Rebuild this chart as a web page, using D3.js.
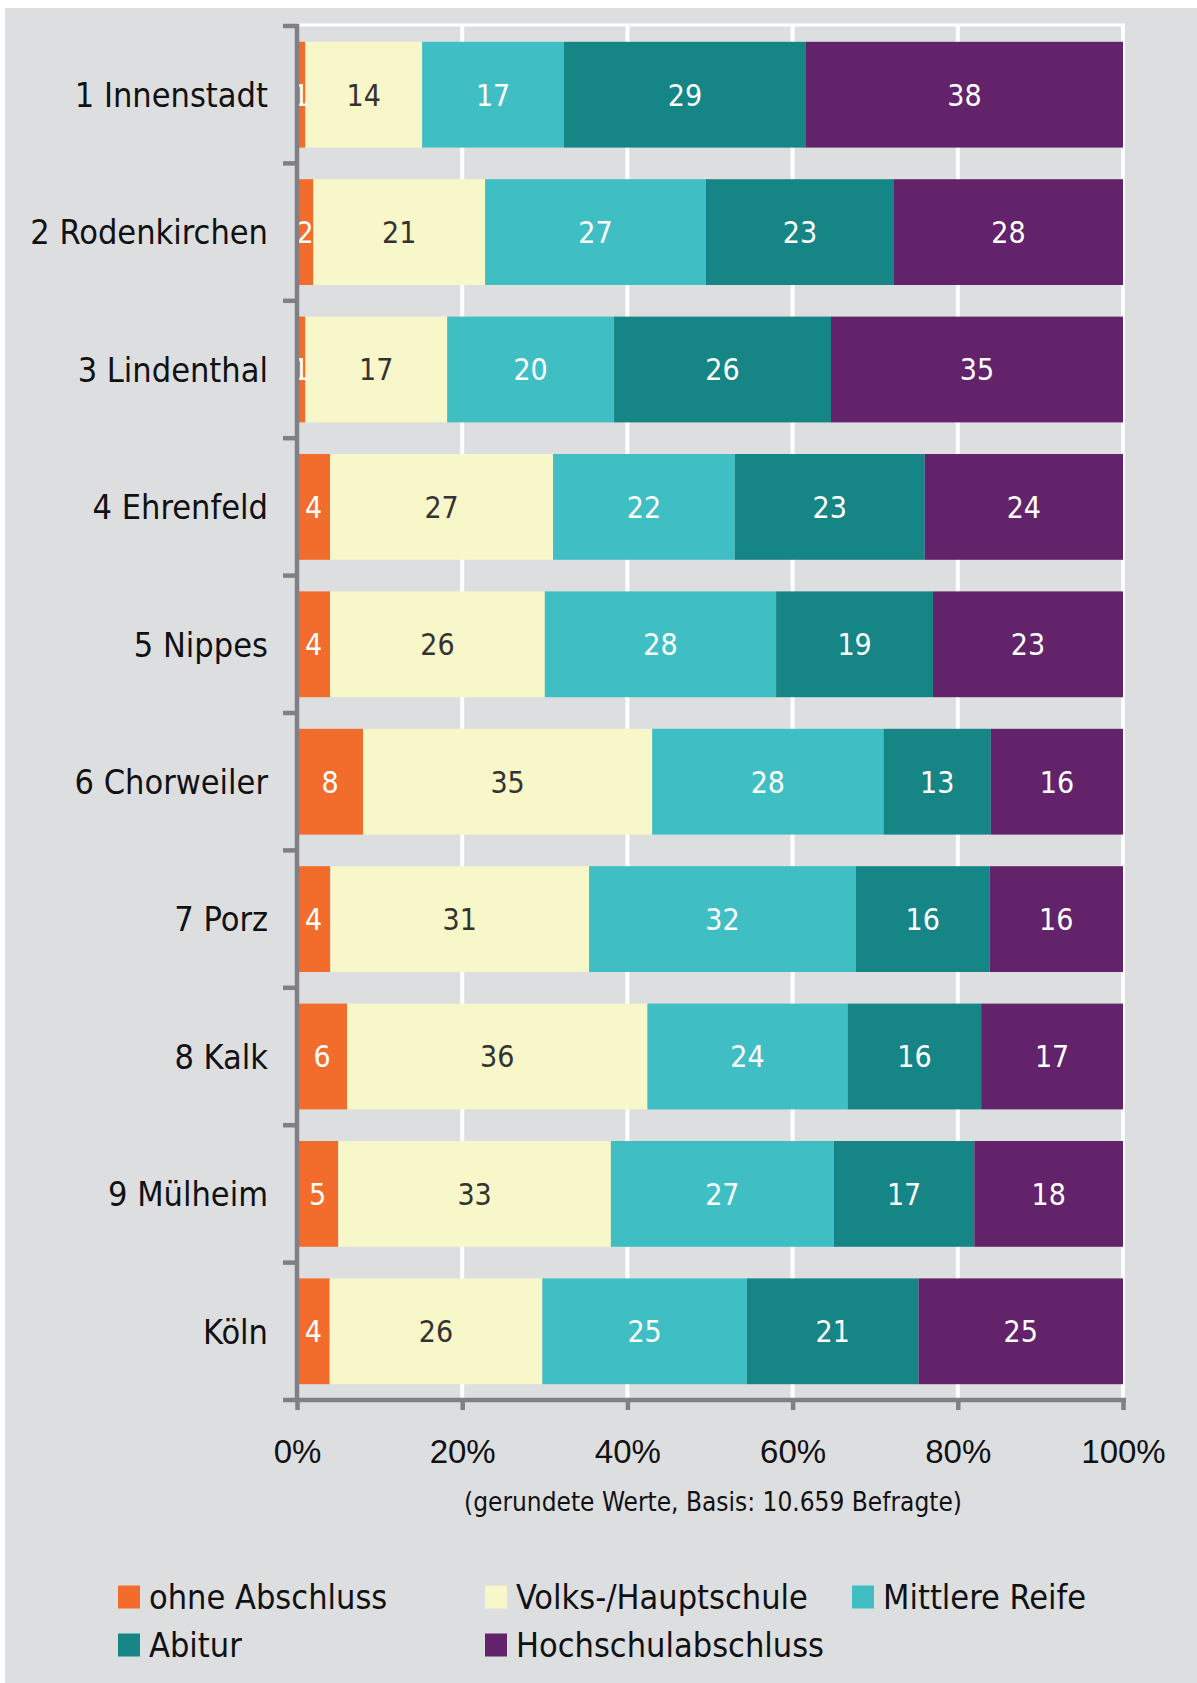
<!DOCTYPE html>
<html lang="de">
<head>
<meta charset="utf-8">
<title>Schulabschluss nach Stadtbezirk</title>
<script src="https://cdn.jsdelivr.net/npm/d3@7"></script>
<style>
  body { margin: 0; background: #fff; }
  svg { display: block; font-family: "Liberation Sans Narrow", "DejaVu Sans Condensed", "Open Sans", sans-serif; }
</style>
</head>
<body>
<script>
var width = 1197;
var height = 1683;

// categories (top to bottom)
var districts = ["1 Innenstadt", "2 Rodenkirchen", "3 Lindenthal", "4 Ehrenfeld", "5 Nippes",
                 "6 Chorweiler", "7 Porz", "8 Kalk", "9 Mülheim", "Köln"];
var series = ["ohne Abschluss", "Volks-/Hauptschule", "Mittlere Reife", "Abitur", "Hochschulabschluss"];
var colors = ["#f26d2b", "#f8f7c9", "#3fbfc4", "#158585", "#63236a"];

// rounded percentages as printed in the bars
var ohne      = [1, 2, 1, 4, 4, 8, 4, 6, 5, 4];
var volks     = [14, 21, 17, 27, 26, 35, 31, 36, 33, 26];
var mittlere  = [17, 27, 20, 22, 28, 28, 32, 24, 27, 25];
var abitur    = [29, 23, 26, 23, 19, 13, 16, 16, 17, 21];
var hochschul = [38, 28, 35, 24, 23, 16, 16, 17, 18, 25];
var xTicks = [0, 0.2, 0.4, 0.6, 0.8, 1];

var data = districts.map(function(d, i) {
  return {
    name: d,
    "ohne Abschluss": ohne[i],
    "Volks-/Hauptschule": volks[i],
    "Mittlere Reife": mittlere[i],
    "Abitur": abitur[i],
    "Hochschulabschluss": hochschul[i]
  };
});

var stack = d3.stack().keys(series).offset(d3.stackOffsetExpand);
var layers = stack(data);

var svg = d3.select("body").append("svg")
  .attr("width", width)
  .attr("height", height);

svg.append("rect")
  .attr("x", 5).attr("y", 8)
  .attr("width", width - 5).attr("height", height - 8)
  .attr("fill", "#dddee0");

var xScale = d3.scaleLinear().domain([0, 1]).range([297, 1123]);
var yScale = d3.scaleBand().domain(districts).range([26, 1400])
  .paddingInner(0.23).paddingOuter(0.115);

var axisColor = "#7f7f85";

// white grid
svg.append("line")
  .attr("x1", xScale(0)).attr("x2", xScale(1) + 2)
  .attr("y1", 25).attr("y2", 25)
  .attr("stroke", "#fff").attr("stroke-width", 3);
svg.selectAll(".grid")
  .data(xTicks.slice(1))
  .enter().append("line")
  .attr("class", "grid")
  .attr("x1", function(d) { return xScale(d); })
  .attr("x2", function(d) { return xScale(d); })
  .attr("y1", 24).attr("y2", 1400)
  .attr("stroke", "#fff").attr("stroke-width", 4);

// bars
var groups = svg.selectAll(".layer")
  .data(layers)
  .enter().append("g")
  .attr("class", "layer")
  .attr("fill", function(d, i) { return colors[i]; });

groups.selectAll("rect")
  .data(function(d) { return d; })
  .enter().append("rect")
  .attr("x", function(d) { return xScale(d[0]); })
  .attr("y", function(d) { return yScale(d.data.name); })
  .attr("width", function(d) { return xScale(d[1]) - xScale(d[0]); })
  .attr("height", yScale.bandwidth());

// value labels
layers.forEach(function(layer, i) {
  svg.append("g").selectAll("text")
    .data(layer)
    .enter().append("text")
    .attr("x", function(d) { return (xScale(d[0]) + xScale(d[1])) / 2; })
    .attr("y", function(d) { return yScale(d.data.name) + yScale.bandwidth() / 2; })
    .attr("dy", "0.36em")
    .attr("text-anchor", "middle")
    .attr("font-size", 30)
    .attr("fill", i === 1 ? "#333333" : "#ffffff")
    .text(function(d) { return d.data[layer.key]; });
});

// y axis with caps at band boundaries
var step = yScale.step();
var y0 = yScale.range()[0];
svg.append("line")
  .attr("x1", 297).attr("x2", 297)
  .attr("y1", y0 - 2).attr("y2", 1402)
  .attr("stroke", axisColor).attr("stroke-width", 4.5);
svg.selectAll(".ycap")
  .data(d3.range(districts.length))
  .enter().append("line")
  .attr("x1", 283).attr("x2", 299)
  .attr("y1", function(d) { return y0 + d * step; })
  .attr("y2", function(d) { return y0 + d * step; })
  .attr("stroke", axisColor).attr("stroke-width", 4.5);

svg.append("g").selectAll("text")
  .data(districts)
  .enter().append("text")
  .attr("x", 268)
  .attr("y", function(d) { return yScale(d) + yScale.bandwidth() / 2; })
  .attr("dy", "0.36em")
  .attr("text-anchor", "end")
  .attr("font-size", 34)
  .attr("fill", "#111")
  .text(function(d) { return d; });

// x axis
svg.append("line")
  .attr("x1", 283).attr("x2", 1126)
  .attr("y1", 1400).attr("y2", 1400)
  .attr("stroke", axisColor).attr("stroke-width", 4.5);

var xAxis = d3.axisBottom(xScale)
  .tickValues(xTicks)
  .tickSize(10)
  .tickPadding(30)
  .tickFormat(d3.format(".0%"));
var gx = svg.append("g")
  .attr("transform", "translate(0,1400)")
  .call(xAxis);
gx.select(".domain").remove();
gx.selectAll(".tick line").attr("stroke", axisColor).attr("stroke-width", 4.5);
gx.selectAll(".tick text")
  .attr("font-size", 33)
  .attr("font-family", null)
  .attr("fill", "#111");

svg.append("text")
  .attr("x", 713).attr("y", 1511)
  .attr("text-anchor", "middle")
  .attr("font-size", 26)
  .attr("fill", "#111")
  .text("(gerundete Werte, Basis: 10.659 Befragte)");

// legend
var legendPos = [[118, 1597], [485, 1597], [852, 1597], [118, 1645], [485, 1645]];
var legend = svg.selectAll(".legend")
  .data(series)
  .enter().append("g")
  .attr("class", "legend")
  .attr("transform", function(d, i) { return "translate(" + legendPos[i][0] + "," + legendPos[i][1] + ")"; });
legend.append("rect")
  .attr("x", 0).attr("y", -11.5)
  .attr("width", 22).attr("height", 23)
  .attr("fill", function(d, i) { return colors[i]; });
legend.append("text")
  .attr("x", 31).attr("y", 0)
  .attr("dy", "0.36em")
  .attr("font-size", 34)
  .attr("fill", "#111")
  .text(function(d) { return d; });
</script>
</body>
</html>
